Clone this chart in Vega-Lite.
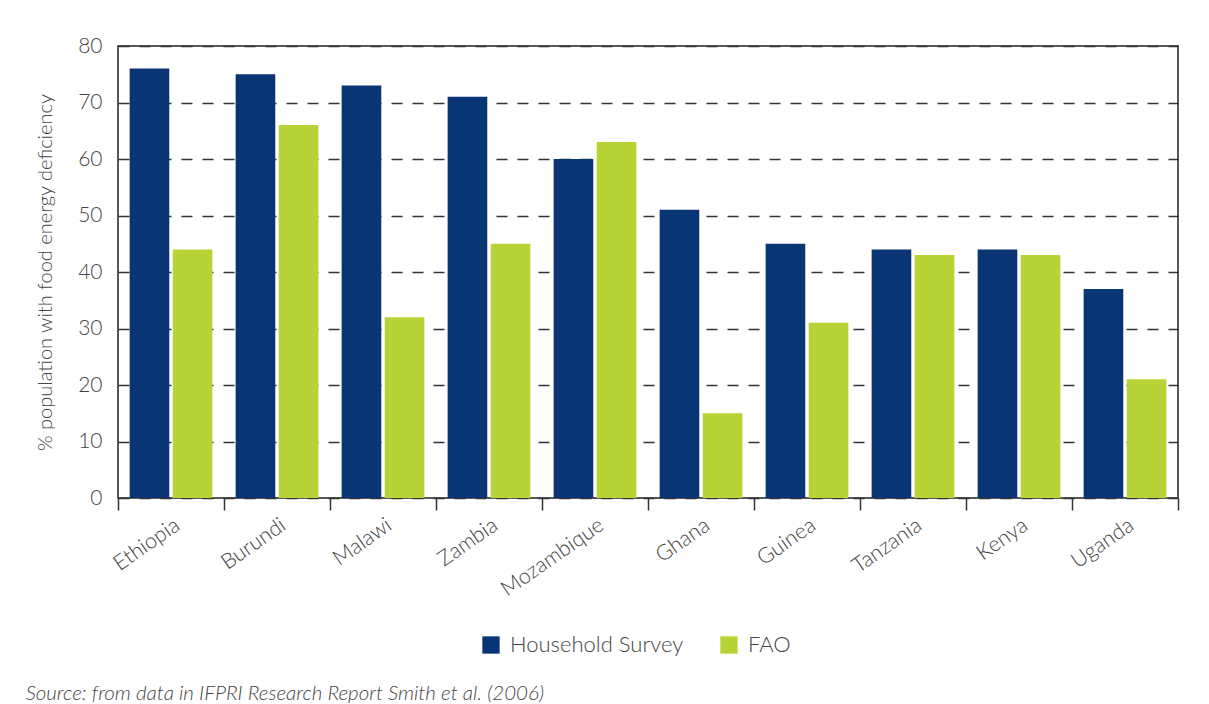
{
  "$schema": "https://vega.github.io/schema/vega-lite/v6.json",
  "width": 1060,
  "height": 452,
  "autosize": {"type": "none"},
  "padding": {"left": 118, "top": 46, "right": 31, "bottom": 206},
  "background": "white",
  "data": {
    "values": [
      {"country": "Ethiopia", "source": "Household Survey", "value": 76},
      {"country": "Ethiopia", "source": "FAO", "value": 44},
      {"country": "Burundi", "source": "Household Survey", "value": 75},
      {"country": "Burundi", "source": "FAO", "value": 66},
      {"country": "Malawi", "source": "Household Survey", "value": 73},
      {"country": "Malawi", "source": "FAO", "value": 32},
      {"country": "Zambia", "source": "Household Survey", "value": 71},
      {"country": "Zambia", "source": "FAO", "value": 45},
      {"country": "Mozambique", "source": "Household Survey", "value": 60},
      {"country": "Mozambique", "source": "FAO", "value": 63},
      {"country": "Ghana", "source": "Household Survey", "value": 51},
      {"country": "Ghana", "source": "FAO", "value": 15},
      {"country": "Guinea", "source": "Household Survey", "value": 45},
      {"country": "Guinea", "source": "FAO", "value": 31},
      {"country": "Tanzania", "source": "Household Survey", "value": 44},
      {"country": "Tanzania", "source": "FAO", "value": 43},
      {"country": "Kenya", "source": "Household Survey", "value": 44},
      {"country": "Kenya", "source": "FAO", "value": 43},
      {"country": "Uganda", "source": "Household Survey", "value": 37},
      {"country": "Uganda", "source": "FAO", "value": 21}
    ]
  },
  "title": {
    "text": "Source: from data in IFPRI Research Report Smith et al. (2006)",
    "orient": "bottom",
    "anchor": "start",
    "frame": "bounds",
    "font": "Lato",
    "fontSize": 20.5,
    "fontStyle": "italic",
    "fontWeight": 300,
    "color": "#444444",
    "offset": 28,
    "dx": -10
  },
  "mark": {"type": "bar"},
  "encoding": {
    "x": {
      "field": "country",
      "type": "nominal",
      "sort": null,
      "scale": {"paddingInner": 0, "paddingOuter": 0},
      "axis": {
        "title": null,
        "labelAngle": -35,
        "labelAlign": "right",
        "labelFontSize": 21.5,
        "labelFont": "Lato",
        "labelFontWeight": 300,
        "labelColor": "#444444",
        "labelPadding": 4,
        "tickBand": "extent",
        "tickSize": 12,
        "tickColor": "#333333",
        "tickWidth": 1.5,
        "domain": false,
        "grid": false
      }
    },
    "xOffset": {
      "field": "source",
      "type": "nominal",
      "sort": ["Household Survey", "FAO"],
      "scale": {"paddingInner": 0.08, "paddingOuter": 0.27}
    },
    "y": {
      "field": "value",
      "type": "quantitative",
      "scale": {"domain": [0, 80]},
      "axis": {
        "title": "% population with food energy deficiency",
        "titleFont": "Lato",
        "titleFontSize": 20,
        "titleFontWeight": 300,
        "titleColor": "#444444",
        "titlePadding": 22,
        "values": [0, 10, 20, 30, 40, 50, 60, 70, 80],
        "labelFont": "Lato",
        "labelFontSize": 21,
        "labelFontWeight": 300,
        "labelColor": "#444444",
        "labelPadding": 16,
        "ticks": false,
        "domain": false,
        "grid": true,
        "gridDash": [11, 10],
        "gridColor": "#333333",
        "gridWidth": 1.5
      }
    },
    "color": {
      "field": "source",
      "type": "nominal",
      "scale": {"domain": ["Household Survey", "FAO"], "range": ["#0a3575", "#b8d335"]},
      "legend": {
        "title": null,
        "orient": "none",
        "legendX": 362,
        "legendY": 588,
        "direction": "horizontal",
        "symbolType": "square",
        "symbolSize": 300,
        "symbolStrokeWidth": 0,
        "labelFont": "Lato",
        "labelFontSize": 22,
        "labelFontWeight": 300,
        "labelColor": "#444444",
        "labelOffset": 8,
        "labelLimit": 0,
        "columnPadding": 34
      }
    }
  },
  "config": {
    "view": {"stroke": "#222222", "strokeWidth": 1.5}
  }
}
